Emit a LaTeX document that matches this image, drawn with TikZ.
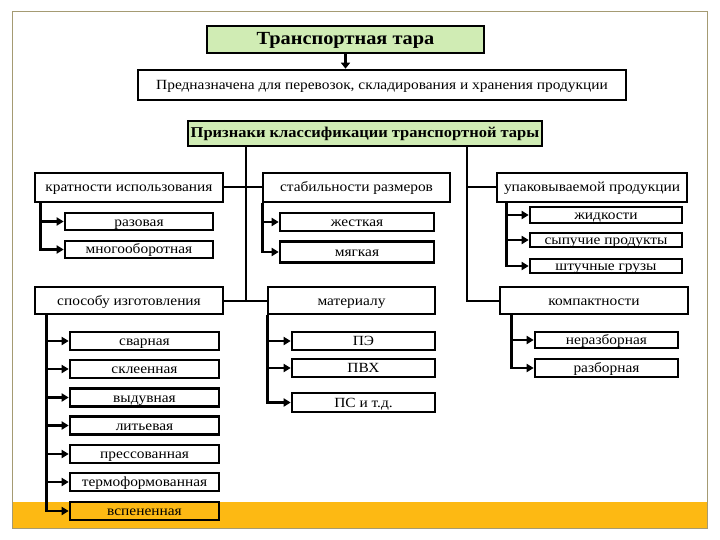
\documentclass[tikz,border=0pt]{standalone}
\usepackage{fontspec}
\setmainfont[FakeStretch=1.1]{Liberation Serif}
\usetikzlibrary{arrows.meta}
\definecolor{boxgreen}{RGB}{208,236,180}
\definecolor{band}{RGB}{253,185,19}
\definecolor{frame}{RGB}{165,155,115}
\tikzset{
  bx/.style={draw=black, line width=2.6pt, fill=white, inner sep=0pt, text height=11pt, text depth=2pt, font=\fontsize{14}{14}\selectfont},
  sub/.style={bx, minimum height=18pt},
  conn/.style={line width=2pt},
  arr/.style={line width=2.6pt, -{Triangle[length=7pt,width=8pt]}},
}
\begin{document}
\begin{tikzpicture}[x=1pt,y=-1pt]
\useasboundingbox (0,0) rectangle (720,540);
\fill[band] (12,502) rectangle (707,528);
\draw[frame, line width=1pt] (12,12) rectangle (707,528);

% top
\node[draw=black, line width=1.3pt, fill=boxgreen, minimum width=277pt, minimum height=27pt, inner sep=0pt, text height=13pt, text depth=2pt, font=\fontsize{18.5}{18.5}\selectfont\bfseries] (t) at (345.5,39.5) {Транспортная тара};
\node[bx, minimum width=488pt, minimum height=30pt] (d) at (382,85) {Предназначена для перевозок, складирования и хранения продукции};
\draw[line width=2.6pt, -{Triangle[length=6pt,width=9pt]}] (t.south) -- (t.south |- d.north);
\node[bx, fill=boxgreen, minimum width=354pt, minimum height=25pt, font=\fontsize{15}{15}\selectfont\bfseries] (p) at (365,133.5) {Признаки классификации транспортной тары};

% row 1
\node[bx, minimum width=188pt, minimum height=29pt] (k) at (129,187.5) {кратности использования};
\node[bx, minimum width=187pt, minimum height=29pt] (s) at (356.5,187.5) {стабильности размеров};
\node[bx, minimum width=190pt, minimum height=29pt] (u) at (592,187.5) {упаковываемой продукции};
% row 2
\node[bx, minimum width=188pt, minimum height=27pt] (sp) at (129,300.5) {способу изготовления};
\node[bx, minimum width=167pt, minimum height=27pt] (m) at (351.5,300.5) {материалу};
\node[bx, minimum width=188pt, minimum height=27pt] (kp) at (594,300.5) {компактности};

% trunk lines
\coordinate (vl) at (246,300.5);
\coordinate (vr) at (467,300.5);
\draw[conn] (p.south -| vl) -- (vl);
\draw[conn] (p.south -| vr) -- (vr) -- (kp.west);
\draw[conn] (k.east) -- (s.west);
\draw[conn] (sp.east) -- (m.west);
\draw[conn] (u.west -| vr) -- (u.west);

% кратности
\node[sub, minimum width=148pt, minimum height=17pt] (k1) at (139,221.5) {разовая};
\node[sub, minimum width=148pt, minimum height=17pt] (k2) at (139,249.5) {многооборотная};
\coordinate (kx) at ([xshift=7pt]k.south west);
\draw[arr] (kx) |- (k1.west);
\draw[arr] (kx) |- (k2.west);

% стабильности
\node[sub, minimum width=154pt, minimum height=18pt] (s1) at (357,222) {жесткая};
\node[sub, minimum width=154pt, minimum height=21pt] (s2) at (357,252) {мягкая};
\coordinate (sx) at ([xshift=1pt]s.south west);
\draw[arr] (sx) |- (s1.west);
\draw[arr] (sx) |- (s2.west);

% упаковываемой
\node[sub, minimum width=152pt, minimum height=16pt] (u1) at (606,215) {жидкости};
\node[sub, minimum width=152pt, minimum height=14pt] (u2) at (606,240) {сыпучие продукты};
\node[sub, minimum width=152pt, minimum height=14pt] (u3) at (606,266) {штучные грузы};
\coordinate (ux) at ([xshift=11pt]u.south west);
\draw[arr] (ux) |- (u1.west);
\draw[arr] (ux) |- (u2.west);
\draw[arr] (ux) |- (u3.west);

% способу
\node[sub, minimum width=149pt] (a1) at (144.5,341) {сварная};
\node[sub, minimum width=149pt] (a2) at (144.5,369) {склеенная};
\node[sub, minimum width=149pt] (a3) at (144.5,397.5) {выдувная};
\node[sub, minimum width=149pt] (a4) at (144.5,425.5) {литьевая};
\node[sub, minimum width=149pt] (a5) at (144.5,454) {прессованная};
\node[sub, minimum width=149pt] (a6) at (144.5,482) {термоформованная};
\node[sub, minimum width=149pt, fill=band] (a7) at (144.5,511) {вспененная};
\coordinate (ax) at ([xshift=13pt]sp.south west);
\foreach \i in {1,...,7} {\draw[arr] (ax) |- (a\i.west);}

% материалу
\node[sub, minimum width=143pt] (m1) at (363.5,341) {ПЭ};
\node[sub, minimum width=143pt] (m2) at (363.5,368) {ПВХ};
\node[sub, minimum width=143pt, minimum height=19pt] (m3) at (363.5,402.5) {ПС и т.д.};
\coordinate (mx) at ([xshift=1pt]m.south west);
\draw[arr] (mx) |- (m1.west);
\draw[arr] (mx) |- (m2.west);
\draw[arr] (mx) |- (m3.west);

% компактности
\node[sub, minimum width=143pt, minimum height=16pt] (c1) at (606.5,340) {неразборная};
\node[sub, minimum width=143pt] (c2) at (606.5,368) {разборная};
\coordinate (cx) at ([xshift=13pt]kp.south west);
\draw[arr] (cx) |- (c1.west);
\draw[arr] (cx) |- (c2.west);
\end{tikzpicture}
\end{document}
